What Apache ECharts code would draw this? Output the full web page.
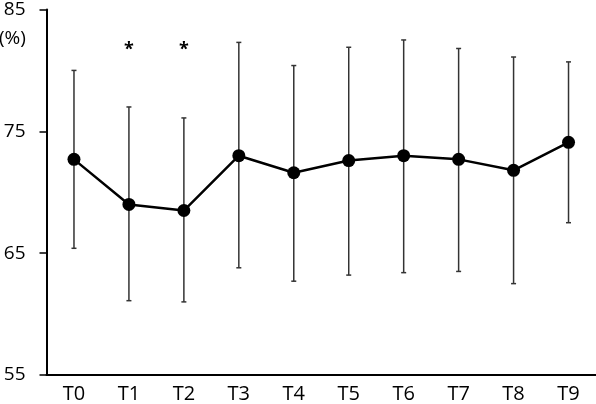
<!DOCTYPE html>
<html>
<head>
<meta charset="utf-8">
<script src="https://cdn.jsdelivr.net/npm/echarts@6/dist/echarts.min.js"></script>
<style>html,body{margin:0;padding:0;background:#fff}#c{width:596px;height:404px}</style>
</head>
<body>
<div id="c"></div>
<script>
var categories = ['T0','T1','T2','T3','T4','T5','T6','T7','T8','T9'];
var means = [72.7, 69.0, 68.5, 73.0, 71.6, 72.6, 73.0, 72.7, 71.8, 74.1];
var upper = [80.0, 77.0, 76.1, 82.3, 80.4, 81.9, 82.5, 81.8, 81.1, 80.7];
var lower = [65.4, 61.1, 61.0, 63.8, 62.7, 63.2, 63.4, 63.5, 62.5, 67.5];
var sigMarks = ['', '*', '*', '', '', '', '', '', '', ''];
var yTicks = [55, 65, 75, 85];
var SIG_LEVEL = 81.8;

var FONT = 'Open Sans';
var chart = echarts.init(document.getElementById('c'), null, {renderer: 'canvas'});

var errData = categories.map(function (c, i) { return [i, lower[i], upper[i]]; });
var sigData = categories.map(function (c, i) { return [i, SIG_LEVEL, sigMarks[i]]; });

chart.setOption({
  animation: false,
  backgroundColor: '#fff',
  grid: {left: 46.5, right: 0, top: 7.5, bottom: 28, containLabel: false},
  xAxis: {
    type: 'category',
    data: categories,
    boundaryGap: true,
    axisLine: {lineStyle: {color: '#000', width: 2}},
    axisTick: {show: false},
    axisLabel: {color: '#000', fontFamily: FONT, fontSize: 20, margin: 9}
  },
  yAxis: {
    type: 'value',
    min: yTicks[0],
    max: yTicks[yTicks.length - 1],
    interval: yTicks[1] - yTicks[0],
    splitLine: {show: false},
    axisLine: {show: true, lineStyle: {color: '#000', width: 2}},
    axisTick: {show: true, inside: false, length: 7, lineStyle: {color: '#000', width: 1.5}},
    axisLabel: {color: '#000', fontFamily: FONT, fontSize: 19, margin: 21}
  },
  graphic: [{
    type: 'text', left: -1, top: 29,
    style: {text: '(%)', fill: '#000', font: '19px "Open Sans"'}
  }],
  series: [
    {
      type: 'custom',
      data: errData,
      z: 1,
      renderItem: function (params, api) {
        var x = api.value(0);
        var lo = api.coord([x, api.value(1)]);
        var hi = api.coord([x, api.value(2)]);
        var cw = 2.5;
        var st = {stroke: '#333', lineWidth: 1.5};
        return {
          type: 'group',
          children: [
            {type: 'line', shape: {x1: hi[0], y1: hi[1], x2: lo[0], y2: lo[1]}, style: st},
            {type: 'line', shape: {x1: hi[0] - cw, y1: hi[1], x2: hi[0] + cw, y2: hi[1]}, style: st},
            {type: 'line', shape: {x1: lo[0] - cw, y1: lo[1], x2: lo[0] + cw, y2: lo[1]}, style: st}
          ]
        };
      }
    },
    {
      type: 'line',
      data: means,
      z: 3,
      symbol: 'circle',
      symbolSize: 13,
      lineStyle: {color: '#000', width: 2.5},
      itemStyle: {color: '#000'}
    },
    {
      type: 'custom',
      data: sigData,
      z: 4,
      renderItem: function (params, api) {
        var p = api.coord([api.value(0), api.value(1)]);
        var t = sigData[params.dataIndex][2];
        return {
          type: 'text',
          x: p[0], y: p[1] + 1.5,
          style: {text: t, fill: '#000', font: 'bold 18px "Open Sans"', align: 'center', verticalAlign: 'middle'}
        };
      }
    }
  ]
});
</script>
</body>
</html>
